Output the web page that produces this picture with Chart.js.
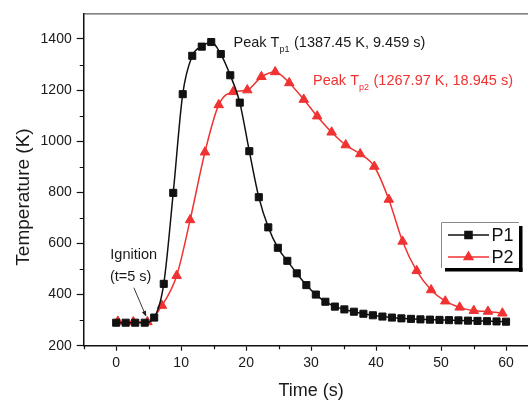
<!DOCTYPE html>
<html><head><meta charset="utf-8">
<script src="https://cdn.jsdelivr.net/npm/chart.js@4/dist/chart.umd.min.js"></script>
<style>
html,body{margin:0;padding:0;background:#fff;overflow:hidden;width:528px;height:400px}
canvas{display:block}
</style></head>
<body>
<canvas id="c" width="545" height="400" style="width:545px;height:400px"></canvas>
<script>
// ---- data ----
const p1Time = [0, 1.46, 2.93, 4.39, 5.85, 7.32, 8.78, 10.24, 11.71, 13.17, 14.63, 16.10, 17.56, 19.02,
  20.49, 21.95, 23.41, 24.88, 26.34, 27.80, 29.27, 30.73, 32.20, 33.66, 35.12, 36.59, 38.05, 39.51,
  40.98, 42.44, 43.90, 45.37, 46.83, 48.29, 49.76, 51.22, 52.68, 54.15, 55.61, 57.07, 58.54, 60.00];
const p1Temp = [290, 290, 290, 290, 310, 442, 798, 1184, 1334, 1370, 1388, 1341, 1258, 1151,
  961, 781, 663, 583, 532, 483, 437, 400, 372, 353, 342, 333, 325, 319,
  314, 310, 307, 305, 303, 302, 301, 300, 299, 298, 297, 296, 295, 294];
const p2Time = [0.26, 2.64, 4.81, 7.04, 9.31, 11.38, 13.66, 15.78, 18.00, 20.18, 22.35, 24.47, 26.64, 28.87,
  30.94, 33.16, 35.33, 37.56, 39.73, 41.96, 44.08, 46.25, 48.47, 50.65, 52.87, 55.04, 57.22, 59.44];
const p2Temp = [295, 293, 293, 357, 474, 692, 957, 1142, 1193, 1200, 1252, 1271, 1228, 1163,
  1098, 1035, 985, 950, 901, 772, 608, 493, 418, 374, 350, 337, 334, 327];
const seriesNames = ['P1', 'P2'];
const xTicks = [0, 10, 20, 30, 40, 50, 60];
const yTicks = [200, 400, 600, 800, 1000, 1200, 1400];
const xMinorTicks = [-5, 5, 15, 25, 35, 45, 55, 65];
const yMinorTicks = [300, 500, 700, 900, 1100, 1300];
const xTitle = 'Time (s)';
const yTitle = 'Temperature (K)';

const BLACK = '#111111';
const RED = '#f03232';
const FONT = '"Liberation Sans", Arial, sans-serif';

function drawParts(ctx, x, y, parts, color) {
  let cx = x;
  ctx.fillStyle = color;
  ctx.textAlign = 'left';
  ctx.textBaseline = 'middle';
  for (const p of parts) {
    ctx.font = (p.sub ? '9px ' : '14.5px ') + FONT;
    ctx.fillText(p.t, cx, p.sub ? y + 6 : y);
    cx += ctx.measureText(p.t).width + (p.sub ? 0.5 : 0);
  }
}

const extras = {
  id: 'extras',
  afterDraw(chart) {
    const ctx = chart.ctx, xs = chart.scales.x, ys = chart.scales.y, a = chart.chartArea;
    ctx.save();
    // top frame
    ctx.strokeStyle = '#333'; ctx.lineWidth = 1;
    ctx.beginPath(); ctx.moveTo(a.left, a.top + 0.5); ctx.lineTo(a.right, a.top + 0.5); ctx.stroke();
    // minor ticks
    ctx.strokeStyle = BLACK; ctx.lineWidth = 1.2;
    ctx.beginPath();
    for (const v of yMinorTicks) { const y = Math.round(ys.getPixelForValue(v)) + 0.5; ctx.moveTo(a.left - 4, y); ctx.lineTo(a.left, y); }
    for (const v of xMinorTicks) { const x = Math.round(xs.getPixelForValue(v)) + 0.5; ctx.moveTo(x, a.bottom); ctx.lineTo(x, a.bottom + 3.5); }
    ctx.stroke();
    // axis titles
    ctx.fillStyle = '#1a1a1a';
    ctx.font = '18px ' + FONT; ctx.textAlign = 'center'; ctx.textBaseline = 'middle';
    ctx.fillText(xTitle, (a.left + a.right) / 2, 391);
    ctx.save(); ctx.translate(23.5, 197); ctx.rotate(-Math.PI / 2);
    ctx.font = '19px ' + FONT; ctx.fillText(yTitle, 0, 0); ctx.restore();
    // annotations
    drawParts(ctx, xs.getPixelForValue(18.06), ys.getPixelForValue(1384),
      [{t: 'Peak T'}, {t: 'p1', sub: true}, {t: ' (1387.45 K, 9.459 s)'}], '#1a1a1a');
    drawParts(ctx, xs.getPixelForValue(30.3), ys.getPixelForValue(1235),
      [{t: 'Peak T'}, {t: 'p2', sub: true}, {t: ' (1267.97 K, 18.945 s)'}], RED);
    drawParts(ctx, xs.getPixelForValue(-0.9), ys.getPixelForValue(555), [{t: 'Ignition'}], '#1a1a1a');
    drawParts(ctx, xs.getPixelForValue(-0.97), ys.getPixelForValue(467), [{t: '(t=5 s)'}], '#1a1a1a');
    // arrow
    const x0 = xs.getPixelForValue(2.72), y0 = ys.getPixelForValue(427);
    const x1 = xs.getPixelForValue(4.63), y1 = ys.getPixelForValue(313);
    const ang = Math.atan2(y1 - y0, x1 - x0);
    ctx.strokeStyle = '#222'; ctx.lineWidth = 0.9;
    ctx.beginPath(); ctx.moveTo(x0, y0); ctx.lineTo(x1 - 4 * Math.cos(ang), y1 - 4 * Math.sin(ang)); ctx.stroke();
    ctx.fillStyle = '#222';
    ctx.beginPath(); ctx.moveTo(x1, y1);
    ctx.lineTo(x1 - 6 * Math.cos(ang) + 2.2 * Math.sin(ang), y1 - 6 * Math.sin(ang) - 2.2 * Math.cos(ang));
    ctx.lineTo(x1 - 6 * Math.cos(ang) - 2.2 * Math.sin(ang), y1 - 6 * Math.sin(ang) + 2.2 * Math.cos(ang));
    ctx.closePath(); ctx.fill();
    // legend
    const L = 441, T = 222, R = 519, B = 268;
    ctx.fillStyle = '#000';
    ctx.fillRect(R, T + 4, 3.5, B - T);
    ctx.fillRect(L + 4, B, R - L - 0.5, 3.5);
    ctx.strokeStyle = '#8a8a8a'; ctx.lineWidth = 1;
    ctx.beginPath(); ctx.moveTo(L + 0.5, B); ctx.lineTo(L + 0.5, T + 0.5); ctx.lineTo(R, T + 0.5); ctx.stroke();
    const items = [{c: BLACK, s: 'rect', y: 235}, {c: RED, s: 'triangle', y: 257}];
    items.forEach((it, i) => {
      ctx.strokeStyle = it.c; ctx.lineWidth = 1.5;
      ctx.beginPath(); ctx.moveTo(448, it.y); ctx.lineTo(489, it.y); ctx.stroke();
      ctx.fillStyle = it.c;
      Chart.helpers.drawPoint(ctx, {pointStyle: it.s, radius: 5, borderWidth: 1, rotation: 0}, 468.5, it.y);
      ctx.fillStyle = '#111';
      ctx.font = '18px ' + FONT; ctx.textAlign = 'left'; ctx.textBaseline = 'middle';
      ctx.fillText(seriesNames[i], 491.5, it.y + 1);
    });
    ctx.restore();
  }
};

const mk = (t, v) => t.map((x, i) => ({x, y: v[i]}));

new Chart(document.getElementById('c'), {
  type: 'line',
  data: {
    datasets: [
      {label: seriesNames[0], data: mk(p1Time, p1Temp), borderColor: BLACK, backgroundColor: BLACK,
       borderWidth: 1.5, pointStyle: 'rect', pointRadius: 5, pointBorderWidth: 1, cubicInterpolationMode: 'monotone'},
      {label: seriesNames[1], data: mk(p2Time, p2Temp), borderColor: RED, backgroundColor: RED,
       borderWidth: 1.5, pointStyle: 'triangle', pointRadius: 5.5, pointBorderWidth: 1, cubicInterpolationMode: 'monotone'}
    ]
  },
  options: {
    responsive: false, animation: false, devicePixelRatio: 1,
    layout: {padding: {top: 10, right: 5, left: 0, bottom: 0}},
    plugins: {legend: {display: false}, tooltip: {enabled: false}},
    elements: {line: {borderJoinStyle: 'round'}},
    scales: {
      x: {
        type: 'linear', min: -5, max: 65,
        afterBuildTicks: s => { s.ticks = xTicks.map(v => ({value: v})); },
        afterFit: s => { s.height = 54.3; },
        grid: {drawOnChartArea: false, drawTicks: true, tickLength: 5, tickColor: BLACK, tickWidth: 1.2},
        border: {display: true, color: BLACK, width: 1.5},
        ticks: {color: '#1a1a1a', font: {family: FONT, size: 14}, padding: 4, maxRotation: 0, autoSkip: false,
                callback: v => String(v)}
      },
      y: {
        type: 'linear', min: 200, max: 1500,
        afterBuildTicks: s => { s.ticks = yTicks.map(v => ({value: v})); },
        afterFit: s => { s.width = 83.7; },
        grid: {drawOnChartArea: false, drawTicks: true, tickLength: 7, tickColor: BLACK, tickWidth: 1.2},
        border: {display: true, color: BLACK, width: 1.5},
        ticks: {color: '#1a1a1a', font: {family: FONT, size: 14}, padding: 5, autoSkip: false,
                callback: v => String(v)}
      }
    }
  },
  plugins: [extras]
});
</script>
</body></html>
